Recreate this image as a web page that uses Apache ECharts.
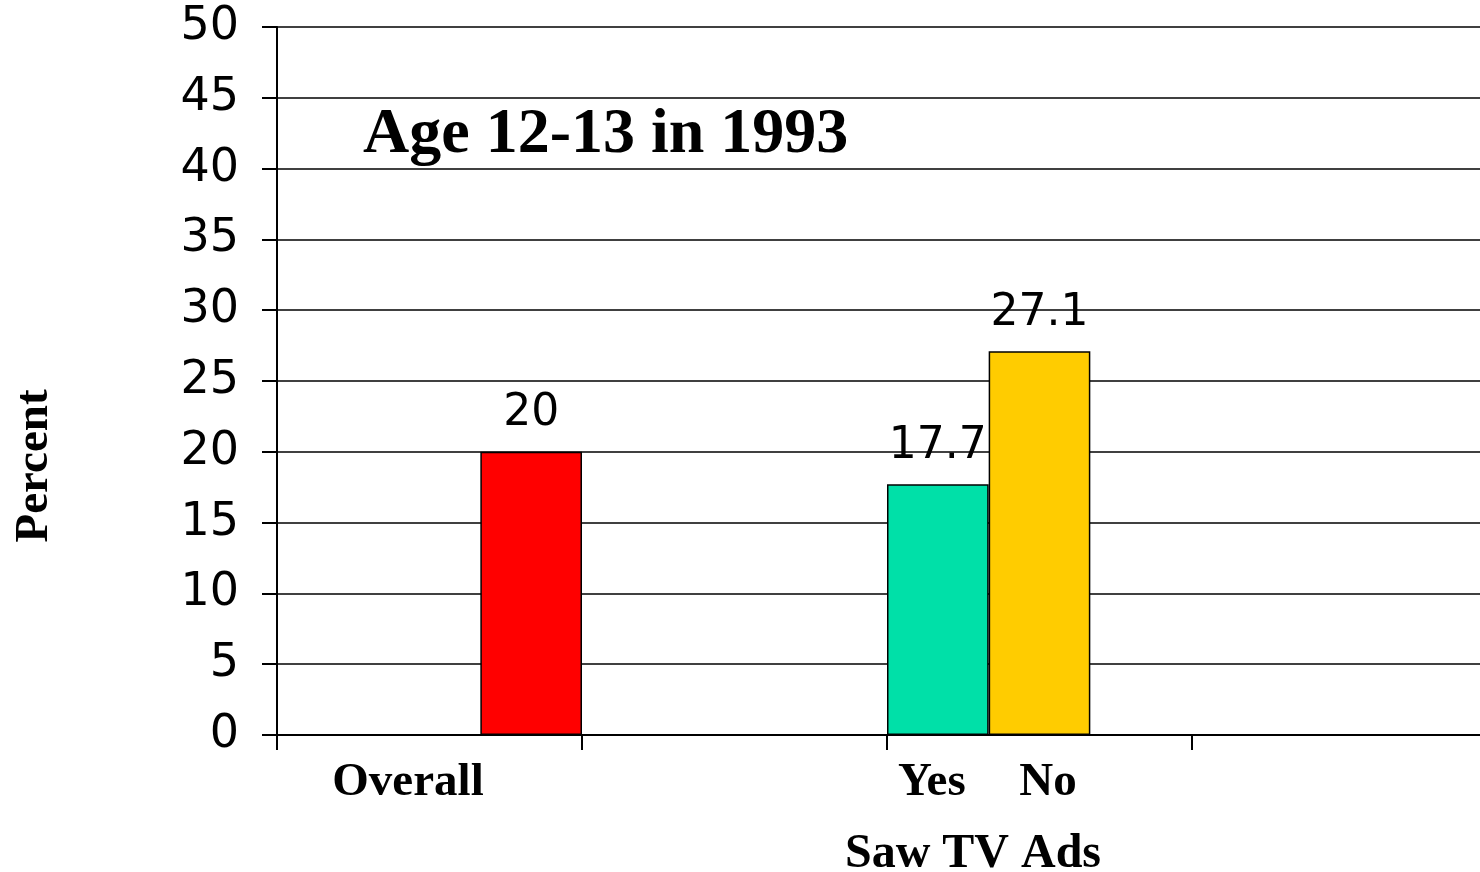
<!DOCTYPE html>
<html>
<head>
<meta charset="utf-8">
<title>Age 12-13 in 1993</title>
<script src="https://cdn.jsdelivr.net/npm/echarts@6/dist/echarts.min.js"></script>
<style>
  html, body { margin: 0; padding: 0; background: #fff; }
  #chart { width: 1480px; height: 872px; }
</style>
</head>
<body>
<div id="chart"></div>
<script>
// values
const groups = ['Overall', 'Yes', 'No']
const percents = [20, 17.7, 27.1]
const barColors = ['#ff0000', '#00e0a8', '#ffcc00']
const yTicks = [0, 5, 10, 15, 20, 25, 30, 35, 40, 45, 50]

// the axis is cut in 12 narrow slots, 3 per major tick
const slotCount = 12
const barSlot = [2, 6, 7]
const labelSlot = [1, 6, 7]
const labelStyle = ['ov', 'ye', 'no']

const slots = []
const barData = []
for (let i = 0; i < slotCount; i++) {
  slots.push('')
  barData.push('-')
}
groups.forEach((g, i) => {
  slots[labelSlot[i]] = '{' + labelStyle[i] + '|' + g + '}'
  barData[barSlot[i]] = {
    value: percents[i],
    itemStyle: { color: barColors[i] }
  }
})

const serif = '"Liberation Serif", "Times New Roman", serif'
const sans = '"DejaVu Sans", sans-serif'

const chart = echarts.init(document.getElementById('chart'))
chart.setOption({
  animation: false,
  title: {
    text: 'Age 12-13 in 1993',
    left: 363,
    top: 103,
    padding: 0,
    textStyle: {
      fontFamily: serif,
      fontWeight: 'bold',
      fontSize: 64,
      color: '#000'
    }
  },
  grid: {
    left: 277,
    right: -17,
    top: 27,
    bottom: 137,
    containLabel: false,
    outerBoundsMode: 'none'
  },
  xAxis: {
    type: 'category',
    data: slots,
    name: 'Saw TV Ads',
    nameLocation: 'middle',
    nameGap: 96,
    nameTextStyle: {
      fontFamily: serif,
      fontWeight: 'bold',
      fontSize: 48,
      color: '#000',
      padding: [0, 0, 0, 172]
    },
    axisLine: { lineStyle: { color: '#000', width: 2 } },
    axisTick: {
      show: true,
      interval: function (index) {
        return index % 3 === 0
      },
      length: 15,
      lineStyle: { color: '#000', width: 2 }
    },
    axisLabel: {
      interval: 0,
      margin: 24,
      color: '#000',
      fontFamily: serif,
      fontWeight: 'bold',
      fontSize: 47,
      rich: {
        ov: { fontFamily: serif, fontWeight: 'bold', fontSize: 47, padding: [0, 43, 0, 0] },
        ye: { fontFamily: serif, fontWeight: 'bold', fontSize: 47, padding: [0, 12, 0, 0] },
        no: { fontFamily: serif, fontWeight: 'bold', fontSize: 47, padding: [0, 0, 0, 17] }
      }
    }
  },
  yAxis: {
    type: 'value',
    min: yTicks[0],
    max: yTicks[yTicks.length - 1],
    interval: 5,
    name: 'Percent',
    nameLocation: 'middle',
    nameGap: 219,
    nameRotate: 90,
    nameTextStyle: {
      fontFamily: serif,
      fontWeight: 'bold',
      fontSize: 47,
      color: '#000',
      padding: [0, 170, 0, 0]
    },
    axisLine: { show: true, lineStyle: { color: '#000', width: 2 } },
    axisTick: { show: true, length: 15, lineStyle: { color: '#000', width: 2 } },
    axisLabel: {
      margin: 38,
      padding: [7, 0, 0, 0],
      color: '#000',
      fontFamily: sans,
      fontSize: 46
    },
    splitLine: { lineStyle: { color: '#000', width: 1.5 } }
  },
  series: [{
    type: 'bar',
    data: barData,
    barWidth: '100%',
    barGap: '0%',
    itemStyle: { borderColor: '#000', borderWidth: 1.5 },
    label: {
      show: true,
      position: 'top',
      distance: 16,
      color: '#000',
      fontFamily: sans,
      fontSize: 44
    }
  }]
})
</script>
</body>
</html>
